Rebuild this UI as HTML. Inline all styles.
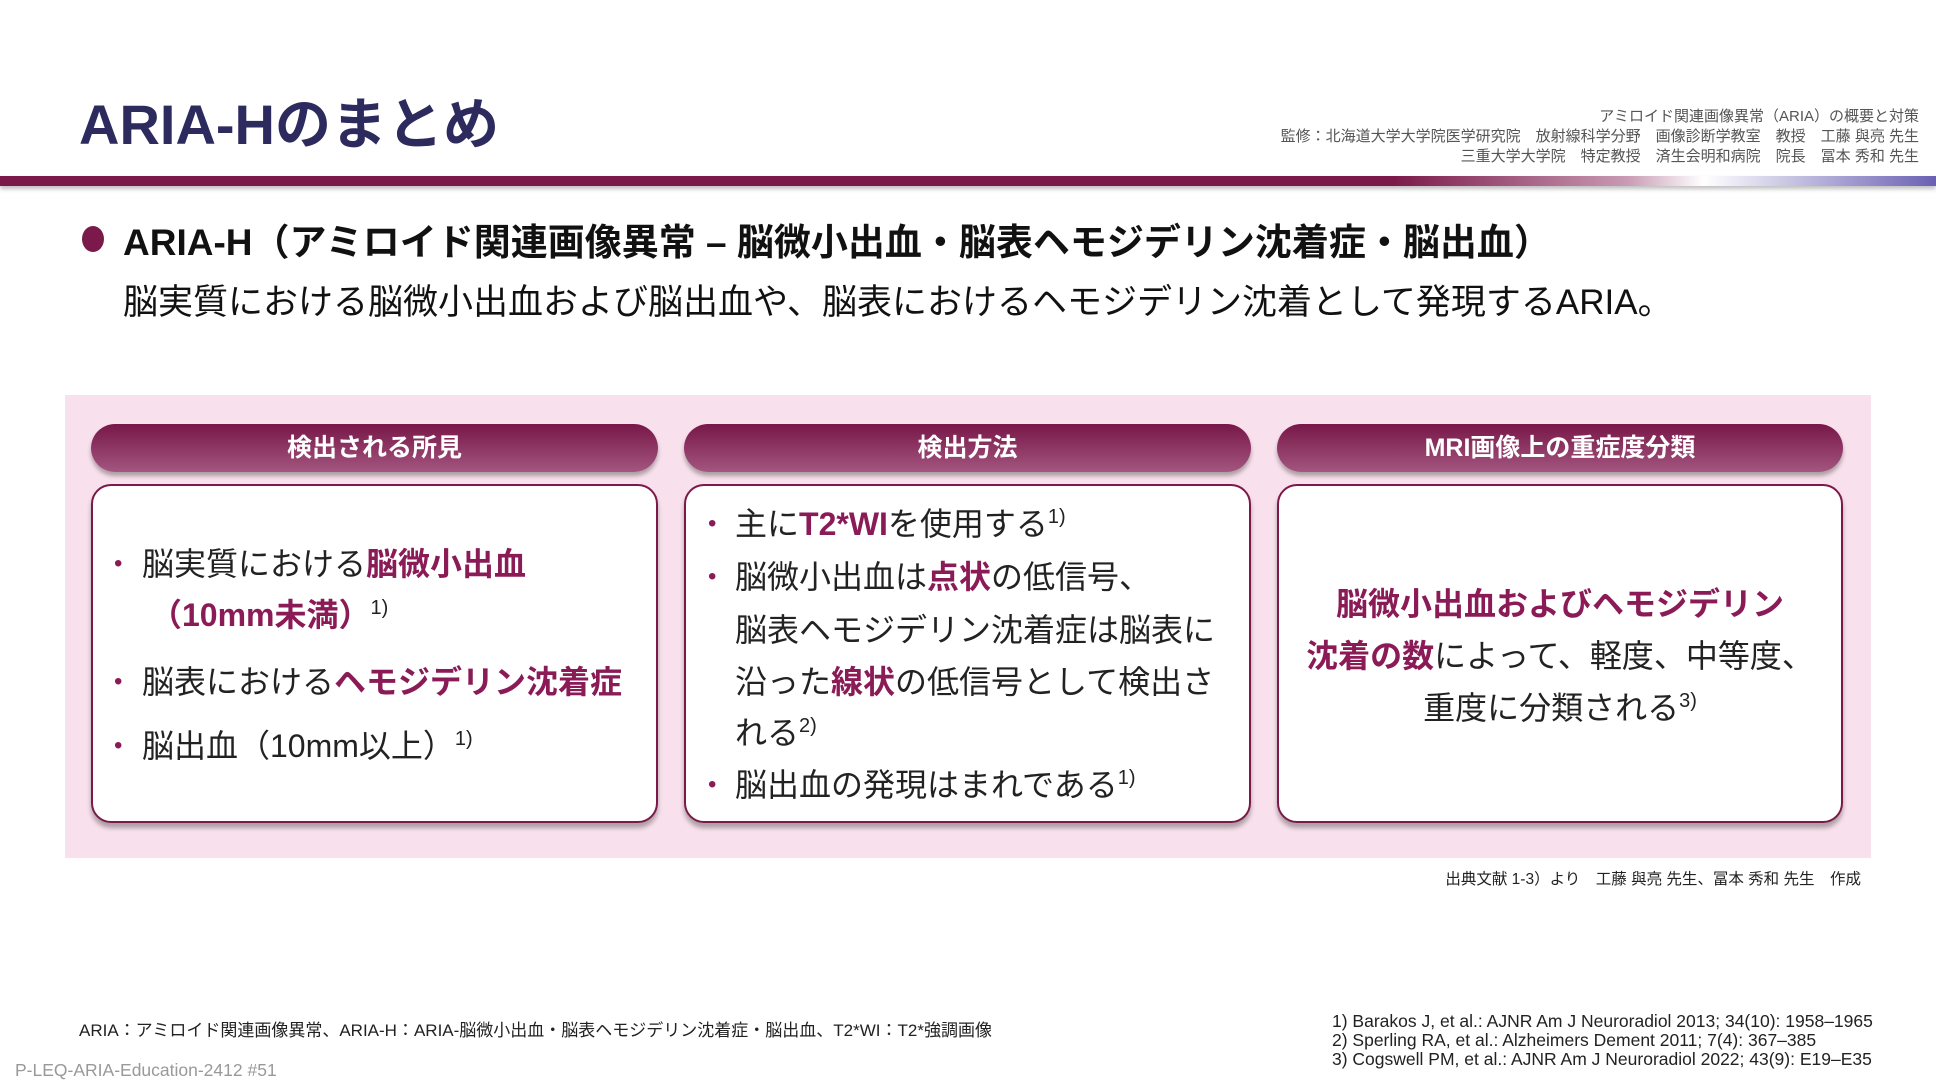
<!DOCTYPE html>
<html><head><meta charset="utf-8"><style>
body{margin:0;width:1936px;height:1092px;position:relative;background:#fff;font-family:"Liberation Sans","Noto Sans CJK JP",sans-serif;color:#222;overflow:hidden}
.a{position:absolute;white-space:nowrap}
.hl{color:#8a1b56;font-weight:bold}
.hdr{position:absolute;top:424px;height:48px;border-radius:24px;background:linear-gradient(#771748,#a3567f);color:#fff;font-weight:bold;font-size:25px;text-align:center;line-height:48px;box-shadow:0 4px 4px rgba(0,0,0,.3)}
.box{position:absolute;top:484px;height:335px;border:2px solid #7b1a4a;border-radius:20px;background:#fff;box-shadow:0 5px 5px rgba(0,0,0,.3)}
.t{position:absolute;font-size:32px;white-space:nowrap;line-height:40px}
.dot{color:#8a1b56;font-size:24px;position:absolute;line-height:40px}
sup{font-size:20px;vertical-align:12px;font-weight:normal;color:#222;line-height:0}
</style></head><body>
<div class="a" style="left:79px;top:80px;font-size:56px;font-weight:bold;color:#2d2a5e">ARIA-Hのまとめ</div>
<div class="a" style="right:17px;top:107px;font-size:15px;color:#555;text-align:right;line-height:20px">アミロイド関連画像異常（ARIA）の概要と対策<br>監修：北海道大学大学院医学研究院　放射線科学分野　画像診断学教室　教授　工藤 與亮 先生<br>三重大学大学院　特定教授　済生会明和病院　院長　冨本 秀和 先生</div>
<div class="a" style="left:0;top:176px;width:1936px;height:10px;background:linear-gradient(90deg,#7b1a4a 0%,#7b1a4a 72%,#c89ab3 84%,#fff 88%,#6a60b3 100%);box-shadow:0 3px 4px rgba(0,0,0,.25)"></div>
<div class="a" style="left:82px;top:226px;width:22px;height:26px;border-radius:50%;background:#7b1a4a"></div>
<div class="a" style="left:123px;top:212px;font-size:37px;font-weight:bold;color:#111">ARIA-H（アミロイド関連画像異常 – 脳微小出血・脳表ヘモジデリン沈着症・脳出血）</div>
<div class="a" style="left:123px;top:274px;font-size:35px;color:#111">脳実質における脳微小出血および脳出血や、脳表におけるヘモジデリン沈着として発現するARIA。</div>
<div class="a" style="left:65px;top:395px;width:1806px;height:463px;background:#f8e1ec"></div>
<div class="hdr" style="left:91px;width:567px">検出される所見</div>
<div class="hdr" style="left:684px;width:567px">検出方法</div>
<div class="hdr" style="left:1277px;width:566px">MRI画像上の重症度分類</div>
<div class="box" style="left:91px;width:563px"></div>
<div class="box" style="left:684px;width:563px"></div>
<div class="box" style="left:1277px;width:562px"></div>
<div class="dot" style="left:114px;top:544px">•</div><div class="t" style="left:142px;top:544px">脳実質における<span class="hl">脳微小出血</span></div>
<div class="t" style="left:150px;top:595px"><span class="hl">（10mm未満）</span><sup>1)</sup></div>
<div class="dot" style="left:114px;top:662px">•</div><div class="t" style="left:142px;top:662px">脳表における<span class="hl">ヘモジデリン沈着症</span></div>
<div class="dot" style="left:114px;top:726px">•</div><div class="t" style="left:142px;top:726px">脳出血（10mm以上）<sup>1)</sup></div>
<div class="dot" style="left:708px;top:504px">•</div><div class="t" style="left:735px;top:504px">主に<span class="hl">T2*WI</span>を使用する<sup>1)</sup></div>
<div class="dot" style="left:708px;top:557px">•</div><div class="t" style="left:735px;top:557px">脳微小出血は<span class="hl">点状</span>の低信号、</div>
<div class="t" style="left:735px;top:610px">脳表ヘモジデリン沈着症は脳表に</div>
<div class="t" style="left:735px;top:662px">沿った<span class="hl">線状</span>の低信号として検出さ</div>
<div class="t" style="left:735px;top:713px">れる<sup>2)</sup></div>
<div class="dot" style="left:708px;top:765px">•</div><div class="t" style="left:735px;top:765px">脳出血の発現はまれである<sup>1)</sup></div>
<div class="t" style="left:1277px;width:566px;text-align:center;top:584px"><span class="hl">脳微小出血およびヘモジデリン</span></div>
<div class="t" style="left:1277px;width:566px;text-align:center;top:636px"><span class="hl">沈着の数</span>によって、軽度、中等度、</div>
<div class="t" style="left:1277px;width:566px;text-align:center;top:688px">重度に分類される<sup>3)</sup></div>
<div class="a" style="right:75px;top:867px;font-size:15.5px;color:#222">出典文献 1-3）より　工藤 與亮 先生、冨本 秀和 先生　作成</div>
<div class="a" style="left:79px;top:1016px;font-size:17px;color:#222">ARIA：アミロイド関連画像異常、ARIA-H：ARIA-脳微小出血・脳表ヘモジデリン沈着症・脳出血、T2*WI：T2*強調画像</div>
<div class="a" style="left:1332px;top:1012px;font-size:17.5px;color:#222;line-height:19px">1) Barakos J, et al.: AJNR Am J Neuroradiol 2013; 34(10): 1958–1965<br>2) Sperling RA, et al.: Alzheimers Dement 2011; 7(4): 367–385<br>3) Cogswell PM, et al.: AJNR Am J Neuroradiol 2022; 43(9): E19–E35</div>
<div class="a" style="left:15px;top:1060px;font-size:17.5px;color:#999">P-LEQ-ARIA-Education-2412 #51</div>
</body></html>
